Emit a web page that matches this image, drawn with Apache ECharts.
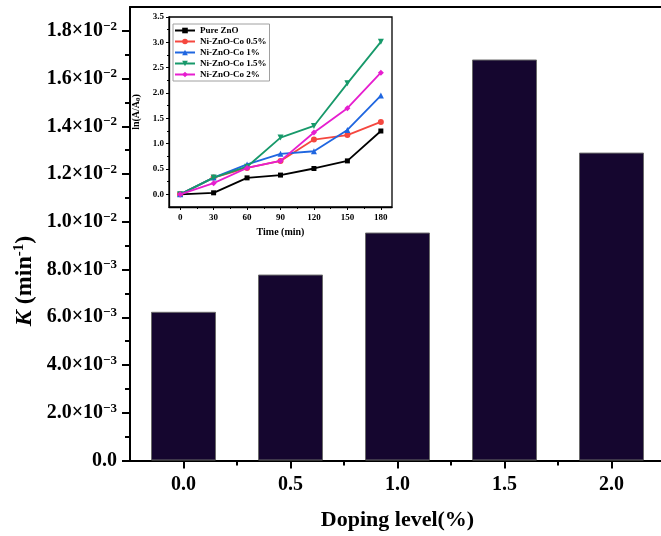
<!DOCTYPE html>
<html><head><meta charset="utf-8">
<script src="https://cdn.jsdelivr.net/npm/echarts@6/dist/echarts.min.js"></script>
<style>html,body{margin:0;padding:0;background:#fff}#c{width:661px;height:536px}</style>
</head><body><div id="c"></div>
<script>
// Main chart data
const dopingLevels = [0.0, 0.5, 1.0, 1.5, 2.0];
const kValues = [0.00623, 0.00779, 0.00955, 0.0168, 0.0129];
const kTicks = [0, 0.002, 0.004, 0.006, 0.008, 0.010, 0.012, 0.014, 0.016, 0.018];
const kMinorTicks = [0.001, 0.003, 0.005, 0.007, 0.009, 0.011, 0.013, 0.015, 0.017];
const dopingTicks = [0, 0.5, 1.0, 1.5, 2.0];
const dopingMinorTicks = [0.25, 0.75, 1.25, 1.75];

// Inset data
const times = [0, 30, 60, 90, 120, 150, 180];
const pureZnO = [0, 0.03, 0.325, 0.38, 0.51, 0.66, 1.25];
const co05 = [0, 0.33, 0.52, 0.66, 1.08, 1.17, 1.43];
const co1 = [0, 0.33, 0.59, 0.80, 0.85, 1.27, 1.95];
const co15 = [0, 0.33, 0.545, 1.12, 1.35, 2.19, 3.01];
const co2 = [0, 0.22, 0.52, 0.66, 1.22, 1.70, 2.40];
const insetNames = ['Pure ZnO', 'Ni-ZnO-Co 0.5%', 'Ni-ZnO-Co 1%', 'Ni-ZnO-Co 1.5%', 'Ni-ZnO-Co 2%'];
const insetYTicks = [0, 0.5, 1.0, 1.5, 2.0, 2.5, 3.0, 3.5];
const insetYMinor = [0.25, 0.75, 1.25, 1.75, 2.25, 2.75, 3.25];
const insetXTicks = [0, 30, 60, 90, 120, 150, 180];
const insetXMinor = [15, 45, 75, 105, 135, 165];

const FF = 'Liberation Serif';
const chart = echarts.init(document.getElementById('c'), null, {renderer: 'canvas'});

function sci(v) {
  if (Math.abs(v) < 1e-12) return '{a|0.0}';
  const e = Math.floor(Math.log10(v) + 1e-9);
  const m = v / Math.pow(10, e);
  return '{a|' + m.toFixed(1) + '×10}{s|−' + (-e) + '}';
}

const black = '#000';
const insetColors = ['#000000', '#f5473f', '#1f66e0', '#17996a', '#e61ecf'];
const insetSymbols = ['rect', 'circle', 'triangle', 'triangle', 'diamond'];
const insetRot = [0, 0, 0, 180, 0];
const insetData = [pureZnO, co05, co1, co15, co2];

const option = {
  animation: false,
  backgroundColor: '#fff',
  grid: [
    {left: 130, top: 7, width: 535, height: 453.5, show: false, outerBoundsMode: 'none', containLabel: false},
    {left: 169, top: 17, width: 223, height: 190, show: true, borderColor: '#000', borderWidth: 1.3, backgroundColor: '#fff', z: 5, outerBoundsMode: 'none', containLabel: false}
  ],
  legend: {
    data: insetNames,
    orient: 'vertical',
    left: 173, top: 24,
    padding: [1, 3, 1, 1],
    itemGap: 0,
    itemWidth: 20, itemHeight: 7,
    borderColor: '#a0a0a0', borderWidth: 1,
    backgroundColor: '#fff',
    textStyle: {fontFamily: FF, fontWeight: 'bold', fontSize: 9, lineHeight: 11, color: '#000'},
    z: 20
  },
  xAxis: [
    {
      gridIndex: 0, type: 'value', position: 'bottom', min: -0.25, max: 2.25, interval: 0.25,
      axisLine: {show: true, onZero: false, lineStyle: {color: black, width: 2}},
      axisTick: {show: true, customValues: dopingTicks, length: 8, lineStyle: {color: black, width: 2}},
      axisLabel: {customValues: dopingTicks, formatter: v => Number(v).toFixed(1), fontFamily: FF, fontWeight: 'bold', fontSize: 20, color: black, margin: 14},
      splitLine: {show: false},
      name: 'Doping level(%)', nameLocation: 'middle', nameGap: 49,
      nameTextStyle: {fontFamily: FF, fontWeight: 'bold', fontSize: 22, color: black}
    },
    {
      gridIndex: 0, type: 'value', position: 'bottom', min: -0.25, max: 2.25, interval: 0.25,
      axisLine: {show: false, onZero: false},
      axisTick: {show: true, customValues: dopingMinorTicks, length: 5, lineStyle: {color: black, width: 2}},
      axisLabel: {show: false},
      splitLine: {show: false}
    },
    {
      gridIndex: 0, type: 'value', position: 'top', min: -0.25, max: 2.25, interval: 0.25,
      axisLine: {show: true, onZero: false, lineStyle: {color: black, width: 2}},
      axisTick: {show: false},
      axisLabel: {show: false},
      splitLine: {show: false}
    },
    {
      gridIndex: 1, type: 'value', position: 'bottom', min: -10, max: 190, interval: 10,
      axisLine: {show: true, onZero: false, lineStyle: {color: black, width: 1.3}},
      axisTick: {show: true, customValues: insetXTicks, length: 3, lineStyle: {color: black, width: 1}},
      axisLabel: {customValues: insetXTicks, fontFamily: FF, fontWeight: 'bold', fontSize: 9, color: black, margin: 6},
      splitLine: {show: false},
      name: 'Time (min)', nameLocation: 'middle', nameGap: 20,
      nameTextStyle: {fontFamily: FF, fontWeight: 'bold', fontSize: 10, color: black},
      z: 6
    },
    {
      gridIndex: 1, type: 'value', position: 'bottom', min: -10, max: 190, interval: 10,
      axisLine: {show: false, onZero: false},
      axisTick: {show: true, customValues: insetXMinor, length: 2, lineStyle: {color: black, width: 1}},
      axisLabel: {show: false},
      splitLine: {show: false}, z: 6
    }
  ],
  yAxis: [
    {
      gridIndex: 0, type: 'value', position: 'left', min: 0, max: 0.019, interval: 0.001,
      axisLine: {show: true, onZero: false, lineStyle: {color: black, width: 2}},
      axisTick: {show: true, customValues: kTicks, length: 8, lineStyle: {color: black, width: 2}},
      axisLabel: {
        customValues: kTicks, formatter: sci, margin: 13, color: black,
        rich: {
          a: {fontFamily: FF, fontWeight: 'bold', fontSize: 20, color: black, lineHeight: 22},
          s: {fontFamily: FF, fontWeight: 'bold', fontSize: 13, color: black, verticalAlign: 'top', lineHeight: 13}
        }
      },
      splitLine: {show: false}
    },
    {
      gridIndex: 0, type: 'value', position: 'left', min: 0, max: 0.019, interval: 0.001,
      axisLine: {show: false, onZero: false},
      axisTick: {show: true, customValues: kMinorTicks, length: 5, lineStyle: {color: black, width: 2}},
      axisLabel: {show: false},
      splitLine: {show: false}
    },
    {
      gridIndex: 1, type: 'value', position: 'left', min: -0.25, max: 3.5, interval: 0.25,
      axisLine: {show: true, onZero: false, lineStyle: {color: black, width: 1.3}},
      axisTick: {show: true, customValues: insetYTicks, length: 3, lineStyle: {color: black, width: 1}},
      axisLabel: {customValues: insetYTicks, formatter: v => Number(v).toFixed(1), fontFamily: FF, fontWeight: 'bold', fontSize: 9, color: black, margin: 5},
      splitLine: {show: false},
      name: '{b|ln(A/A}{u|0}{b|)}', nameLocation: 'middle', nameGap: 27,
      nameTextStyle: {
        rich: {
          b: {fontFamily: FF, fontWeight: 'bold', fontSize: 10, color: black},
          u: {fontFamily: FF, fontWeight: 'bold', fontSize: 7, color: black, verticalAlign: 'bottom', padding: [4, 0, 0, 0]}
        }
      },
      z: 6
    },
    {
      gridIndex: 1, type: 'value', position: 'left', min: -0.25, max: 3.5, interval: 0.25,
      axisLine: {show: false, onZero: false},
      axisTick: {show: true, customValues: insetYMinor, length: 2, lineStyle: {color: black, width: 1}},
      axisLabel: {show: false},
      splitLine: {show: false}, z: 6
    }
  ],
  graphic: [
    {
      type: 'text', x: 25, y: 281, rotation: Math.PI / 2,
      style: {
        text: '{k|K}{n| (min}{s|-1}{n|)}',
        align: 'center', verticalAlign: 'middle',
        rich: {
          k: {fontFamily: FF, fontWeight: 'bold', fontStyle: 'italic', fontSize: 24, fill: black, lineHeight: 26},
          n: {fontFamily: FF, fontWeight: 'bold', fontSize: 24, fill: black, lineHeight: 26},
          s: {fontFamily: FF, fontWeight: 'bold', fontSize: 15, fill: black, verticalAlign: 'top', lineHeight: 15}
        }
      }
    }
  ],
  series: [
    {
      type: 'bar', xAxisIndex: 0, yAxisIndex: 0,
      data: dopingLevels.map((d, i) => [d, kValues[i]]),
      barWidth: 65,
      itemStyle: {color: '#15062f', borderColor: '#6a6a6a', borderWidth: 1},
      z: 2
    }
  ].concat(insetNames.map((n, i) => ({
    type: 'line', name: n, xAxisIndex: 3, yAxisIndex: 2,
    data: times.map((t, j) => [t, insetData[i][j]]),
    symbol: insetSymbols[i], symbolSize: insetSymbols[i] === 'rect' ? 5 : 6,
    symbolRotate: insetRot[i],
    lineStyle: {color: insetColors[i], width: 1.8},
    itemStyle: {color: insetColors[i]},
    z: 10 + i
  })))
};
chart.setOption(option);
</script>
</body></html>
